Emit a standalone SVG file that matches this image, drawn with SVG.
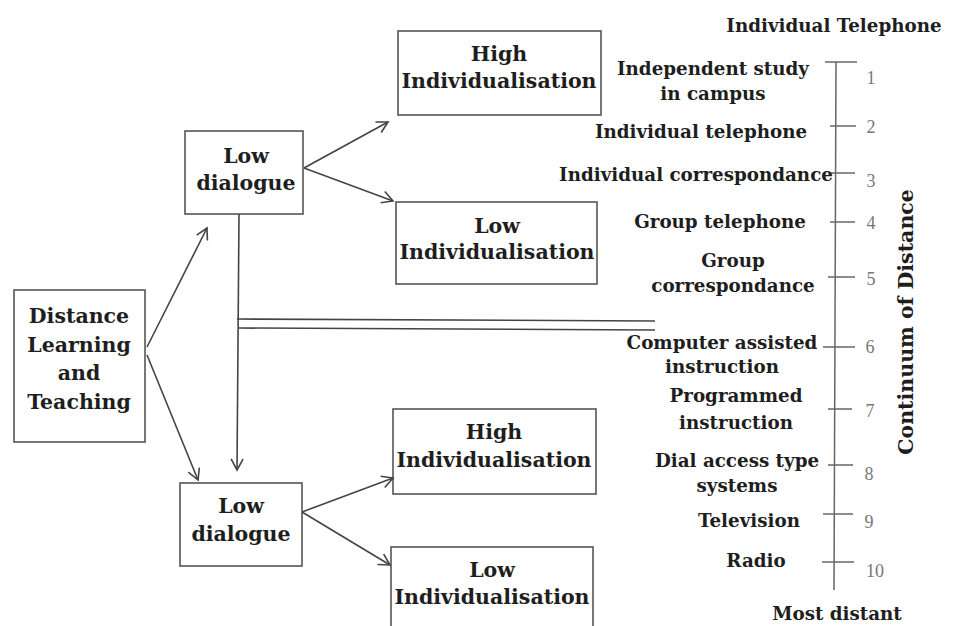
<svg xmlns="http://www.w3.org/2000/svg" width="955" height="626" viewBox="0 0 955 626">
<defs>
<marker id="ah" markerWidth="14" markerHeight="14" refX="12" refY="7" orient="auto" markerUnits="userSpaceOnUse">
<path d="M1,1 L12,7 L1,13" fill="none" stroke="#444" stroke-width="1.6"/>
</marker>
<style>
.box{fill:#fff;stroke:#555;stroke-width:1.6}
.t{font-family:"DejaVu Serif","Liberation Serif",serif;font-weight:bold;fill:#1e1e1e;text-anchor:middle}
.bt{font-size:20.5px}
.lt{font-size:18.3px}
.num{font-family:"Liberation Serif",serif;font-size:18px;fill:#777;text-anchor:middle}
.ln{stroke:#444;stroke-width:1.6;fill:none}
.ax{stroke:#666;stroke-width:1.5;fill:none}
</style>
</defs>
<rect width="955" height="626" fill="#fff"/>

<g id="dlt">
<rect class="box" x="14" y="290" width="131" height="152"/>
<text class="t bt" x="79" y="323">Distance</text>
<text class="t bt" x="79" y="352">Learning</text>
<text class="t bt" x="79" y="380">and</text>
<text class="t bt" x="79" y="409">Teaching</text>
</g>

<g id="lowdialogue1">
<rect class="box" x="185" y="131" width="118" height="83"/>
<text class="t bt" x="246" y="163">Low</text>
<text class="t bt" x="246" y="190">dialogue</text>
</g>

<g id="lowdialogue2">
<rect class="box" x="180" y="483" width="122" height="83"/>
<text class="t bt" x="241" y="513">Low</text>
<text class="t bt" x="241" y="541">dialogue</text>
</g>

<g id="highindiv1">
<rect class="box" x="398" y="31" width="203" height="84"/>
<text class="t bt" x="499" y="61">High</text>
<text class="t bt" x="499" y="88">Individualisation</text>
</g>

<g id="lowindiv1">
<rect class="box" x="396" y="202" width="201" height="82"/>
<text class="t bt" x="497" y="233">Low</text>
<text class="t bt" x="497" y="259">Individualisation</text>
</g>

<g id="highindiv2">
<rect class="box" x="393" y="409" width="203" height="85"/>
<text class="t bt" x="494" y="439">High</text>
<text class="t bt" x="494" y="467">Individualisation</text>
</g>

<g id="lowindiv2">
<rect class="box" x="391" y="547" width="202" height="90"/>
<text class="t bt" x="492" y="577">Low</text>
<text class="t bt" x="492" y="604">Individualisation</text>
</g>

<g id="connectors">
<line class="ln" x1="147" y1="347" x2="207" y2="228" marker-end="url(#ah)" stroke-width="2.2"/>
<line class="ln" x1="147" y1="355" x2="198" y2="480" marker-end="url(#ah)" stroke-width="2.2"/>
<line class="ln" x1="304" y1="168" x2="388" y2="122" marker-end="url(#ah)"/>
<line class="ln" x1="304" y1="168" x2="393" y2="201" marker-end="url(#ah)"/>
<line class="ln" x1="302" y1="512" x2="393" y2="478" marker-end="url(#ah)"/>
<line class="ln" x1="302" y1="512" x2="390" y2="565" marker-end="url(#ah)"/>
<line class="ln" x1="239" y1="214" x2="237" y2="470" marker-end="url(#ah)"/>
<line class="ln" x1="237" y1="319" x2="655" y2="321"/>
<line class="ln" x1="239" y1="328" x2="655" y2="330"/>
</g>

<g id="scale">
<line class="ax" x1="836" y1="62" x2="834" y2="590"/>
<line class="ax" x1="825" y1="62" x2="857" y2="62"/>
<line class="ax" x1="830" y1="126" x2="856" y2="126"/>
<line class="ax" x1="831" y1="173" x2="855" y2="173"/>
<line class="ax" x1="830" y1="222" x2="855" y2="222"/>
<line class="ax" x1="828" y1="277" x2="855" y2="277"/>
<line class="ax" x1="823" y1="347" x2="855" y2="347"/>
<line class="ax" x1="828" y1="409" x2="852" y2="409"/>
<line class="ax" x1="828" y1="465" x2="853" y2="465"/>
<line class="ax" x1="823" y1="514" x2="853" y2="514"/>
<line class="ax" x1="822" y1="562" x2="854" y2="562"/>
<text class="num" x="871" y="84">1</text>
<text class="num" x="871" y="133">2</text>
<text class="num" x="871" y="187">3</text>
<text class="num" x="871" y="229">4</text>
<text class="num" x="871" y="285">5</text>
<text class="num" x="870" y="353">6</text>
<text class="num" x="870" y="417">7</text>
<text class="num" x="869" y="480">8</text>
<text class="num" x="869" y="528">9</text>
<text class="num" x="875" y="577">10</text>
</g>

<g id="labels">
<text class="t lt" x="834" y="32">Individual Telephone</text>
<text class="t lt" x="713" y="75">Independent study</text>
<text class="t lt" x="713" y="100">in campus</text>
<text class="t lt" x="701" y="138">Individual telephone</text>
<text class="t lt" x="696" y="181">Individual correspondance</text>
<text class="t lt" x="720" y="228">Group telephone</text>
<text class="t lt" x="733" y="267">Group</text>
<text class="t lt" x="733" y="292">correspondance</text>
<text class="t lt" x="722" y="349">Computer assisted</text>
<text class="t lt" x="722" y="373">instruction</text>
<text class="t lt" x="736" y="402">Programmed</text>
<text class="t lt" x="736" y="429">instruction</text>
<text class="t lt" x="737" y="467">Dial access type</text>
<text class="t lt" x="737" y="492">systems</text>
<text class="t lt" x="749" y="527">Television</text>
<text class="t lt" x="756" y="567">Radio</text>
<text class="t lt" x="837" y="620">Most distant</text>
<text class="t" font-size="20.5" transform="translate(913,322) rotate(-90)">Continuum of Distance</text>
</g>
</svg>
